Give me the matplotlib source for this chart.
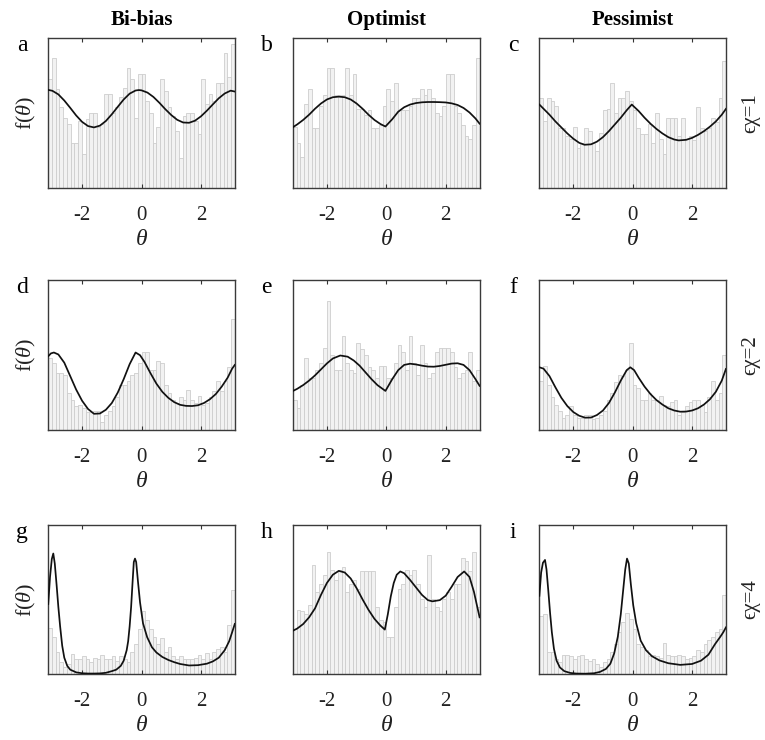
import numpy as np
import matplotlib
matplotlib.use('Agg')
import matplotlib.pyplot as plt

plt.rcParams['font.family'] = ['Liberation Serif', 'DejaVu Serif']
plt.rcParams['mathtext.fontset'] = 'custom'
plt.rcParams['mathtext.rm'] = 'Liberation Serif'
plt.rcParams['mathtext.it'] = 'Liberation Serif:italic'
plt.rcParams['axes.unicode_minus'] = False

col_titles = ['Bi-bias', 'Optimist', 'Pessimist']
row_labels = ['ϵχ=1', 'ϵχ=2', 'ϵχ=4']
panel_letters = ['a', 'b', 'c', 'd', 'e', 'f', 'g', 'h', 'i']
x_ticks = [-2, 0, 2]

# histogram heights, 50 bins over [-pi, pi] (fraction of panel height)
hist_a = [0.73,0.87,0.66,0.54,0.47,0.43,0.30,0.30,0.45,0.23, 0.46,0.50,0.50,0.41,0.43,0.63,0.63,0.50,0.54,0.61,
          0.67,0.80,0.73,0.47,0.76,0.76,0.58,0.50,0.30,0.41, 0.73,0.65,0.54,0.48,0.38,0.20,0.48,0.50,0.50,0.45,
          0.36,0.73,0.56,0.63,0.58,0.70,0.70,0.90,0.74,0.96]
hist_b = [0.41,0.30,0.21,0.56,0.66,0.40,0.40,0.55,0.62,0.80, 0.80,0.62,0.62,0.62,0.80,0.62,0.76,0.53,0.53,0.49,
          0.52,0.40,0.40,0.42,0.55,0.66,0.58,0.70,0.52,0.52, 0.52,0.55,0.60,0.60,0.66,0.62,0.66,0.60,0.50,0.48,
          0.55,0.76,0.76,0.55,0.50,0.42,0.35,0.33,0.42,0.87]
hist_c = [0.60,0.45,0.60,0.58,0.55,0.40,0.40,0.35,0.33,0.41, 0.27,0.30,0.40,0.38,0.30,0.25,0.37,0.52,0.53,0.70,
          0.50,0.60,0.60,0.65,0.58,0.52,0.40,0.36,0.36,0.43, 0.30,0.50,0.33,0.23,0.47,0.47,0.47,0.35,0.47,0.33,
          0.35,0.32,0.54,0.40,0.38,0.40,0.47,0.44,0.60,0.85]
hist_d = [0.48,0.45,0.38,0.38,0.37,0.25,0.20,0.16,0.17,0.15, 0.12,0.12,0.13,0.13,0.05,0.10,0.13,0.16,0.22,0.30,
          0.30,0.33,0.37,0.38,0.45,0.52,0.52,0.40,0.40,0.46, 0.45,0.30,0.25,0.20,0.18,0.22,0.20,0.27,0.20,0.18,
          0.23,0.17,0.18,0.22,0.26,0.33,0.26,0.33,0.42,0.74]
hist_e = [0.20,0.15,0.30,0.48,0.35,0.35,0.40,0.45,0.55,0.86, 0.50,0.40,0.40,0.63,0.45,0.40,0.38,0.58,0.54,0.50,
          0.42,0.40,0.35,0.43,0.43,0.35,0.35,0.45,0.57,0.52, 0.40,0.63,0.45,0.37,0.57,0.45,0.35,0.38,0.52,0.55,
          0.55,0.55,0.52,0.42,0.35,0.38,0.40,0.52,0.33,0.40]
hist_f = [0.33,0.43,0.30,0.22,0.17,0.13,0.08,0.10,0.16,0.10, 0.08,0.08,0.10,0.10,0.07,0.08,0.10,0.13,0.20,0.25,
          0.32,0.37,0.36,0.40,0.58,0.30,0.28,0.20,0.20,0.25, 0.20,0.20,0.23,0.17,0.16,0.19,0.20,0.10,0.12,0.16,
          0.19,0.20,0.20,0.17,0.12,0.22,0.33,0.20,0.25,0.50]
hist_g = [0.31,0.25,0.15,0.08,0.05,0.07,0.135,0.10,0.10,0.12, 0.10,0.08,0.11,0.10,0.13,0.10,0.10,0.12,0.09,0.12,
          0.10,0.08,0.15,0.20,0.30,0.42,0.36,0.30,0.25,0.20, 0.24,0.15,0.18,0.12,0.10,0.12,0.10,0.10,0.10,0.11,
          0.13,0.10,0.14,0.10,0.15,0.17,0.18,0.15,0.33,0.56]
hist_h = [0.30,0.43,0.42,0.40,0.46,0.73,0.55,0.60,0.66,0.82, 0.70,0.63,0.70,0.72,0.55,0.60,0.63,0.57,0.69,0.69,
          0.69,0.69,0.45,0.36,0.35,0.25,0.25,0.45,0.57,0.60, 0.70,0.66,0.70,0.60,0.50,0.45,0.80,0.50,0.45,0.42,
          0.50,0.55,0.50,0.60,0.60,0.78,0.76,0.69,0.82,0.45]
hist_i = [0.39,0.40,0.15,0.15,0.10,0.08,0.13,0.13,0.12,0.10, 0.12,0.13,0.10,0.09,0.10,0.07,0.05,0.08,0.10,0.15,
          0.20,0.28,0.35,0.41,0.37,0.30,0.20,0.18,0.16,0.12, 0.13,0.12,0.11,0.21,0.13,0.12,0.12,0.13,0.12,0.10,
          0.11,0.12,0.16,0.15,0.20,0.23,0.25,0.28,0.30,0.53]

# fitted density curves (theta, height)
curve_a_x = [-3.14,-3.0,-2.8,-2.6,-2.4,-2.2,-2.0,-1.8,-1.6,-1.4,-1.2,-1.0,-0.8,-0.6,-0.4,-0.2,-0.09,
             0.0,0.2,0.4,0.6,0.8,1.0,1.2,1.4,1.6,1.8,2.0,2.2,2.4,2.6,2.8,3.0,3.14]
curve_a_y = [0.656,0.650,0.626,0.585,0.536,0.485,0.442,0.414,0.405,0.417,0.448,0.493,0.543,0.592,0.631,0.652,0.655,
             0.653,0.638,0.609,0.570,0.527,0.488,0.456,0.438,0.436,0.450,0.479,0.517,0.559,0.600,0.632,0.651,0.645]
curve_b_x = [-3.14,-3.0,-2.8,-2.6,-2.4,-2.2,-2.0,-1.8,-1.6,-1.4,-1.2,-1.0,-0.8,-0.6,-0.4,-0.2,-0.03,
             0.2,0.4,0.6,0.8,1.0,1.2,1.4,1.6,1.8,2.0,2.2,2.4,2.6,2.8,3.0,3.14]
curve_b_y = [0.407,0.425,0.455,0.490,0.530,0.565,0.592,0.607,0.611,0.607,0.592,0.565,0.530,0.490,0.455,0.428,0.411,
             0.460,0.510,0.540,0.558,0.568,0.573,0.575,0.575,0.574,0.572,0.566,0.555,0.535,0.505,0.465,0.430]
curve_c_x = [-3.14,-3.0,-2.8,-2.6,-2.4,-2.2,-2.0,-1.8,-1.62,-1.4,-1.2,-1.0,-0.8,-0.6,-0.4,-0.2,-0.03,
             0.2,0.4,0.6,0.8,1.0,1.2,1.4,1.55,1.8,2.0,2.2,2.4,2.6,2.8,3.0,3.14]
curve_c_y = [0.558,0.530,0.490,0.445,0.405,0.365,0.330,0.302,0.289,0.292,0.310,0.340,0.380,0.425,0.470,0.520,0.558,
             0.515,0.470,0.430,0.395,0.365,0.340,0.324,0.318,0.322,0.335,0.355,0.380,0.410,0.445,0.490,0.529]
curve_d_x = [-3.14,-3.05,-2.95,-2.8,-2.6,-2.4,-2.2,-2.0,-1.8,-1.6,-1.4,-1.2,-1.0,-0.8,-0.6,-0.4,-0.2,-0.05,
             0.1,0.3,0.5,0.7,0.9,1.1,1.3,1.5,1.7,1.9,2.1,2.3,2.5,2.7,2.9,3.05,3.14]
curve_d_y = [0.493,0.512,0.518,0.505,0.450,0.360,0.270,0.195,0.140,0.108,0.110,0.135,0.180,0.250,0.340,0.440,0.518,0.500,
             0.455,0.380,0.310,0.255,0.215,0.186,0.168,0.161,0.160,0.165,0.180,0.205,0.240,0.290,0.350,0.410,0.435]
curve_e_x = [-3.14,-3.0,-2.8,-2.6,-2.4,-2.2,-2.0,-1.8,-1.55,-1.3,-1.1,-0.9,-0.7,-0.5,-0.3,-0.03,
             0.2,0.4,0.6,0.8,1.0,1.2,1.4,1.6,1.8,2.0,2.2,2.4,2.6,2.8,3.0,3.14]
curve_e_y = [0.261,0.275,0.300,0.330,0.365,0.405,0.445,0.478,0.498,0.490,0.465,0.430,0.385,0.340,0.300,0.261,
             0.340,0.400,0.435,0.443,0.438,0.430,0.424,0.423,0.428,0.436,0.444,0.446,0.435,0.400,0.340,0.295]
curve_f_x = [-3.14,-3.0,-2.8,-2.6,-2.4,-2.2,-2.0,-1.8,-1.6,-1.4,-1.2,-1.0,-0.8,-0.6,-0.4,-0.2,-0.08,
             0.05,0.2,0.4,0.6,0.8,1.0,1.2,1.4,1.6,1.8,2.0,2.2,2.4,2.6,2.8,3.0,3.14]
curve_f_y = [0.419,0.410,0.360,0.285,0.215,0.160,0.120,0.095,0.082,0.083,0.100,0.130,0.180,0.250,0.330,0.400,0.419,
             0.400,0.350,0.290,0.240,0.200,0.170,0.145,0.130,0.122,0.123,0.130,0.145,0.170,0.205,0.255,0.330,0.408]
curve_g_x = [-3.14,-3.08,-3.02,-2.97,-2.92,-2.86,-2.8,-2.74,-2.67,-2.6,-2.5,-2.4,-2.2,-2.0,-1.8,-1.6,-1.4,-1.2,
             -1.0,-0.85,-0.7,-0.6,-0.5,-0.45,-0.4,-0.35,-0.3,-0.26,-0.22,-0.18,-0.12,-0.05,0.05,0.19,0.35,0.5,
             0.7,0.9,1.1,1.3,1.6,1.9,2.2,2.4,2.6,2.8,2.95,3.05,3.14]
curve_g_y = [0.469,0.650,0.770,0.807,0.740,0.600,0.450,0.320,0.190,0.110,0.055,0.030,0.012,0.006,0.004,0.004,0.005,0.009,
             0.020,0.030,0.055,0.090,0.160,0.220,0.320,0.450,0.620,0.750,0.773,0.750,0.620,0.480,0.340,0.247,0.180,0.145,
             0.115,0.095,0.080,0.068,0.058,0.060,0.070,0.085,0.110,0.160,0.220,0.280,0.336]
curve_h_x = [-3.14,-3.0,-2.8,-2.6,-2.4,-2.2,-2.0,-1.8,-1.6,-1.4,-1.2,-1.0,-0.8,-0.6,-0.4,-0.2,-0.05,
             0.05,0.15,0.25,0.35,0.47,0.6,0.8,1.0,1.2,1.4,1.55,1.8,2.0,2.2,2.4,2.62,2.8,2.95,3.05,3.14]
curve_h_y = [0.291,0.305,0.335,0.380,0.440,0.530,0.610,0.665,0.691,0.680,0.640,0.575,0.500,0.430,0.370,0.325,0.298,
             0.400,0.520,0.610,0.665,0.687,0.675,0.630,0.580,0.530,0.495,0.487,0.495,0.525,0.585,0.650,0.687,0.650,0.550,0.460,0.380]
curve_i_x = [-3.14,-3.08,-3.02,-2.95,-2.9,-2.84,-2.78,-2.72,-2.65,-2.56,-2.45,-2.3,-2.1,-1.9,-1.6,-1.3,-1.1,
             -0.9,-0.75,-0.62,-0.5,-0.4,-0.32,-0.25,-0.19,-0.13,-0.06,0.02,0.12,0.27,0.45,0.65,0.9,1.2,1.6,
             2.0,2.3,2.55,2.77,2.95,3.05,3.14]
curve_i_y = [0.524,0.680,0.745,0.764,0.700,0.560,0.410,0.280,0.170,0.090,0.045,0.020,0.008,0.004,0.003,0.006,0.015,
             0.035,0.070,0.140,0.250,0.400,0.560,0.700,0.773,0.740,0.600,0.460,0.340,0.224,0.160,0.120,0.092,0.073,0.062,
             0.068,0.090,0.130,0.200,0.250,0.280,0.313]

hists = [hist_a, hist_b, hist_c, hist_d, hist_e, hist_f, hist_g, hist_h, hist_i]
curves = [(curve_a_x, curve_a_y), (curve_b_x, curve_b_y), (curve_c_x, curve_c_y),
          (curve_d_x, curve_d_y), (curve_e_x, curve_e_y), (curve_f_x, curve_f_y),
          (curve_g_x, curve_g_y), (curve_h_x, curve_h_y), (curve_i_x, curve_i_y)]

fig = plt.figure(figsize=(7.65, 7.4), dpi=100)
lefts = [0.063, 0.383, 0.705]
bottoms = [0.746, 0.419, 0.089]
w, h = 0.244, 0.202

edges = np.linspace(-np.pi, np.pi, 51)
for r in range(3):
    for c in range(3):
        k = r * 3 + c
        ax = fig.add_axes([lefts[c], bottoms[r], w, h])
        ax.bar(edges[:-1], hists[k], width=edges[1] - edges[0], align='edge',
               color='#f2f2f2', edgecolor='#cdcdcd', linewidth=0.6, zorder=1)
        cx, cy = curves[k]
        ax.plot(cx, cy, color='#111111', linewidth=1.25, zorder=3)
        ax.set_xlim(-np.pi, np.pi)
        ax.set_ylim(0, 1.0)
        ax.set_yticks([])
        ax.set_xticks(x_ticks)
        ax.set_xticklabels([str(t) for t in x_ticks])
        ax.tick_params(axis='x', direction='in', top=True, length=3, width=0.8,
                       labelsize=15, pad=13, color='#333333', labelcolor='#222222')
        for s in ax.spines.values():
            s.set_linewidth(1.0)
            s.set_color('#3a3a3a')
        ax.set_xlabel(r'$\theta$', fontsize=17, labelpad=3, color='#222222')
        if c == 0:
            ax.set_ylabel(r'f($\theta$)', fontsize=16, labelpad=7, color='#222222')
        if r == 0:
            ax.set_title(col_titles[c], fontsize=15, fontweight='bold', pad=10)
        if c == 2:
            ax.text(1.135, 0.5, row_labels[r], transform=ax.transAxes, rotation=90,
                    ha='center', va='center', fontsize=15, color='#222222')
        ax.text(-0.14, 1.02, panel_letters[k], transform=ax.transAxes,
                ha='center', va='top', fontsize=17)

fig.savefig('out.png', dpi=100)
